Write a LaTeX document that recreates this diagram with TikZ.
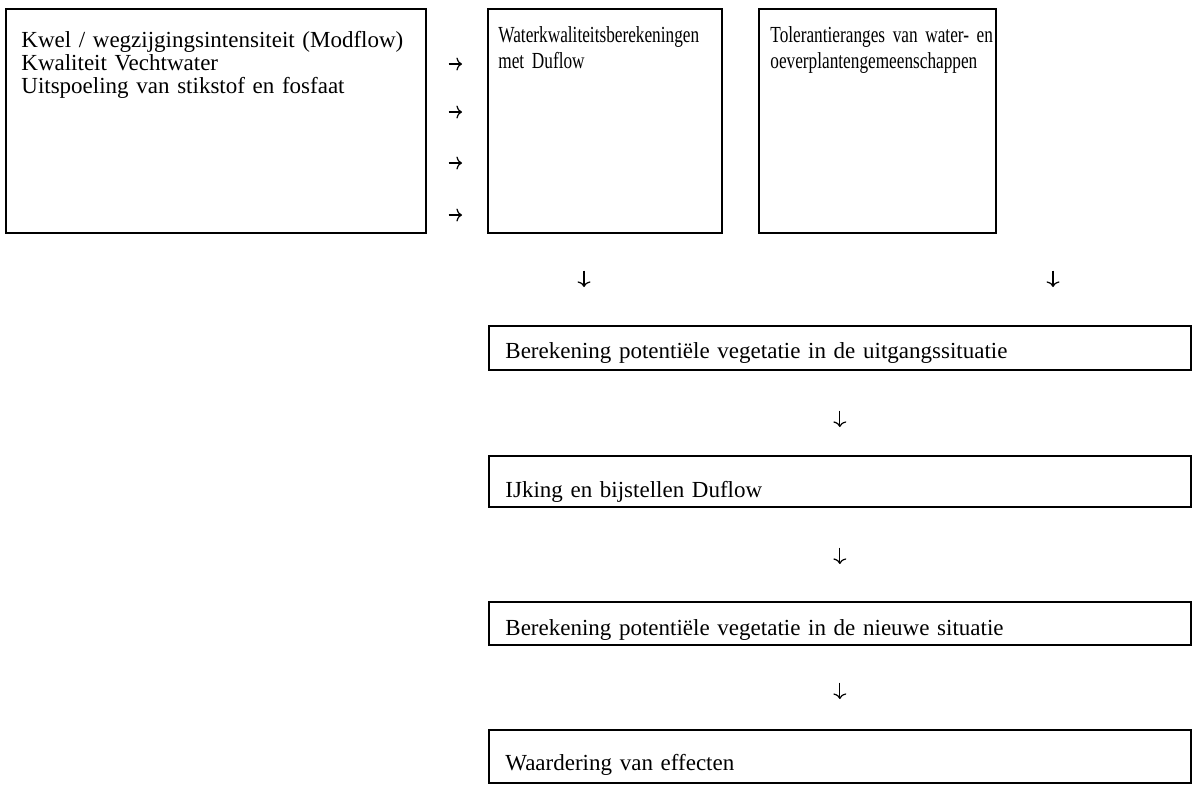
\documentclass[tikz,border=0pt]{standalone}
\usepackage{fontspec}
\setmainfont{Liberation Serif}
\newfontfamily\smalletter[FakeStretch=0.75]{Liberation Serif}
\usetikzlibrary{arrows.meta}

\begin{document}
\begin{tikzpicture}[x=0.5pt, y=-0.5pt,
        vak/.style={draw, line width=0.8pt, anchor=north west, inner sep=0pt, minimum width=351pt},
        tekst/.style={anchor=base west, inner sep=0pt, align=left, text width=330pt,
            font=\fontsize{11.5}{11.5}\selectfont},
        smaltekst/.style={anchor=base west, inner sep=0pt, align=left, text width=130pt,
            font=\fontsize{11.5}{13}\smalletter},
        pijl/.style={-{To[length=2.8pt,width=6.5pt]}, line width=0.6pt},
        rechts/.style={pijl, shorten <=11pt, shorten >=12.5pt}]

        \useasboundingbox (0,0) rectangle (1197,784);

        % bovenste rij
        \node[vak, minimum width=210pt, minimum height=112pt] (kwel) at (5,8) {};
        \node[vak, minimum width=117pt, minimum height=112pt] (wkb) at (487,8) {};
        \node[vak, minimum width=118.5pt, minimum height=112pt] (tol) at (758,8) {};

        \node[tekst] (kweltekst) at (21,47) {Kwel / wegzijgingsintensiteit (Modflow)\\
            Kwaliteit Vechtwater\\
            Uitspoeling van stikstof en fosfaat};
        \node[smaltekst] (wkbtekst) at (498,42) {Waterkwaliteitsberekeningen\\met Duflow};
        \node[smaltekst] (toltekst) at (770,42) {Tolerantieranges van water- en\\oeverplantengemeenschappen};

        % onderste kolom
        \node[vak, minimum height=22pt] (uitg) at (488,325) {};
        \node[vak, minimum height=25.5pt] (ijk) at (488,455) {};
        \node[vak, minimum height=21.5pt] (nieuw) at (488,601) {};
        \node[vak, minimum height=26.5pt] (waard) at (488,729) {};

        \node[tekst] (uitgtekst) at (505,358) {Berekening potentiële vegetatie in de uitgangssituatie};
        \node[tekst] (ijktekst) at (505,497) {IJking en bijstellen Duflow};
        \node[tekst] (nieuwtekst) at (505,635) {Berekening potentiële vegetatie in de nieuwe situatie};
        \node[tekst] (waardtekst) at (505,770) {Waardering van effecten};

        % pijlen
        \foreach \y in {64,112,163,215} {
            \coordinate (h) at (0,\y);
            \draw[rechts] (kwel.east |- h) -- (wkb.west |- h);
        }

        \coordinate (kolL) at (584,0);
        \coordinate (kolR) at (1053,0);
        \draw[pijl, shorten <=18.5pt, shorten >=19pt] (wkb.south -| kolL) -- (uitg.north -| kolL);
        \draw[pijl, shorten <=18.5pt, shorten >=19pt] (tol.south -| kolR) -- (uitg.north -| kolR);

        \draw[pijl, shorten <=20pt, shorten >=14pt] (uitg) -- (ijk);
        \draw[pijl, shorten <=20pt, shorten >=18.5pt] (ijk) -- (nieuw);
        \draw[pijl, shorten <=18.5pt, shorten >=15pt] (nieuw) -- (waard);

\end{tikzpicture}
\end{document}
